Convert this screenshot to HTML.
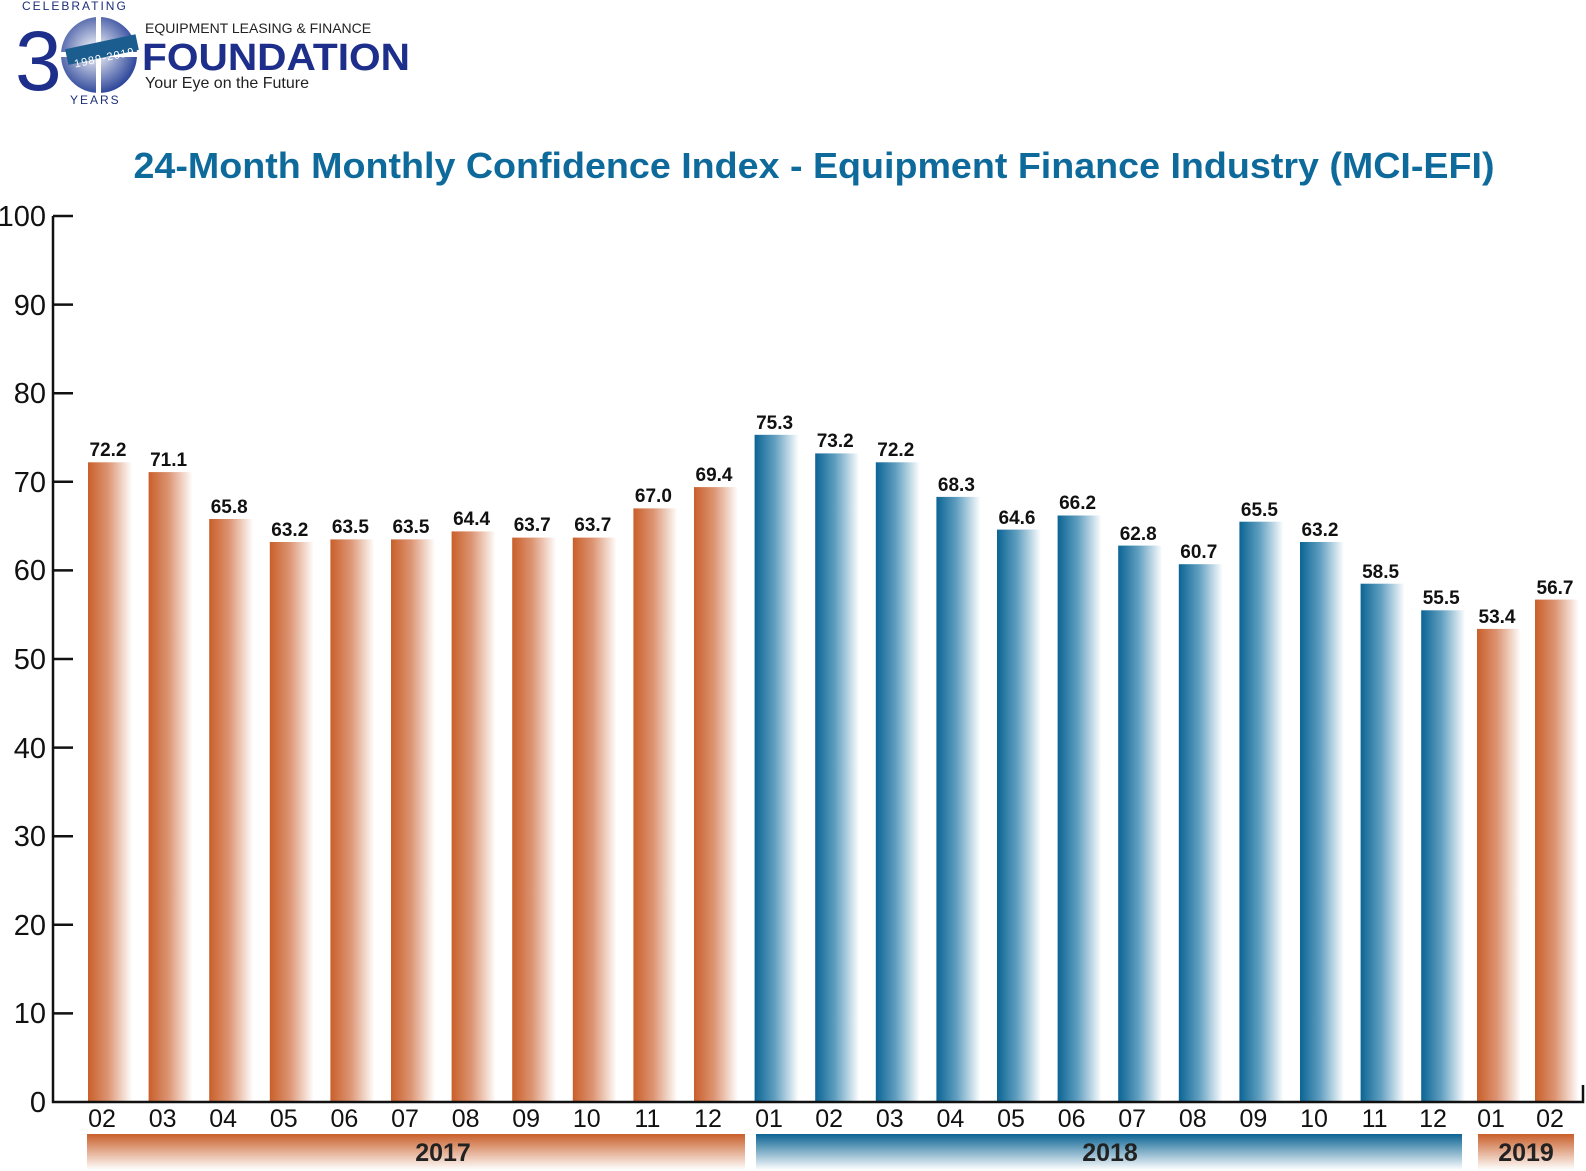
<!DOCTYPE html>
<html><head><meta charset="utf-8"><style>
html,body{margin:0;padding:0;background:#fff;}
svg{display:block;}
text{font-family:"Liberation Sans",sans-serif;}
</style></head><body>
<svg width="1586" height="1171" viewBox="0 0 1586 1171" xmlns="http://www.w3.org/2000/svg">
<defs>
<linearGradient id="o" x1="0" x2="1" y1="0" y2="0"><stop offset="0" stop-color="#c95f2a"/><stop offset="0.45" stop-color="#dc9472"/><stop offset="1" stop-color="#fff"/></linearGradient>
<linearGradient id="b" x1="0" x2="1" y1="0" y2="0"><stop offset="0" stop-color="#0b6494"/><stop offset="0.45" stop-color="#5f9ebf"/><stop offset="1" stop-color="#fff"/></linearGradient>
<linearGradient id="ov" x1="0" x2="0" y1="0" y2="1"><stop offset="0" stop-color="#c95f2a"/><stop offset="1" stop-color="#fff"/></linearGradient>
<linearGradient id="bv" x1="0" x2="0" y1="0" y2="1"><stop offset="0" stop-color="#0b6494"/><stop offset="1" stop-color="#fff"/></linearGradient>
<radialGradient id="gl" cx="0.45" cy="0.45" r="0.6"><stop offset="0" stop-color="#fff"/><stop offset="1" stop-color="#1f3a93"/></radialGradient>
</defs>
<!-- logo -->
<text x="22" y="10" font-size="12" fill="#1d2f7a" letter-spacing="2">CELEBRATING</text>
<text x="70" y="104" font-size="12" fill="#1d2f7a" letter-spacing="2">YEARS</text>
<text x="15" y="90" font-size="84" fill="#1d2f8a">3</text>
<circle cx="99" cy="55" r="38" fill="url(#gl)"/>
<rect x="96" y="17" width="5" height="76" fill="#fff"/>
<rect x="61" y="52" width="76" height="5" fill="#fff"/>
<rect x="66" y="42" width="72" height="16" fill="#1c5d8f" transform="rotate(-12 100 50)"/>
<text x="72" y="62" font-size="11" fill="#fff" letter-spacing="1" transform="rotate(-12 100 50)">1989-2019</text>
<text x="145" y="33" font-size="14" fill="#222">EQUIPMENT LEASING &amp; FINANCE</text>
<text x="142" y="70" font-size="38" font-weight="bold" fill="#1d2f8a" textLength="268" lengthAdjust="spacingAndGlyphs">FOUNDATION</text>
<text x="145" y="88" font-size="16" fill="#222">Your Eye on the Future</text>
<!-- title -->
<text x="814" y="178" font-size="36" font-weight="bold" fill="#0e6a9b" text-anchor="middle" textLength="1361" lengthAdjust="spacingAndGlyphs">24-Month Monthly Confidence Index - Equipment Finance Industry (MCI-EFI)</text>
<!-- bars -->
<g>
<rect x="88" y="462.3" width="44" height="639.7" fill="url(#o)"/>
<rect x="148.6" y="472.1" width="44" height="629.9" fill="url(#o)"/>
<rect x="209.2" y="519" width="44" height="583" fill="url(#o)"/>
<rect x="269.8" y="542" width="44" height="560" fill="url(#o)"/>
<rect x="330.4" y="539.4" width="44" height="562.6" fill="url(#o)"/>
<rect x="391" y="539.4" width="44" height="562.6" fill="url(#o)"/>
<rect x="451.6" y="531.4" width="44" height="570.6" fill="url(#o)"/>
<rect x="512.2" y="537.6" width="44" height="564.4" fill="url(#o)"/>
<rect x="572.8" y="537.6" width="44" height="564.4" fill="url(#o)"/>
<rect x="633.4" y="508.4" width="44" height="593.6" fill="url(#o)"/>
<rect x="694" y="487.1" width="44" height="614.9" fill="url(#o)"/>
<rect x="754.6" y="434.8" width="44" height="667.2" fill="url(#b)"/>
<rect x="815.2" y="453.4" width="44" height="648.6" fill="url(#b)"/>
<rect x="875.8" y="462.3" width="44" height="639.7" fill="url(#b)"/>
<rect x="936.4" y="496.9" width="44" height="605.1" fill="url(#b)"/>
<rect x="997" y="529.6" width="44" height="572.4" fill="url(#b)"/>
<rect x="1057.6" y="515.5" width="44" height="586.5" fill="url(#b)"/>
<rect x="1118.2" y="545.6" width="44" height="556.4" fill="url(#b)"/>
<rect x="1178.8" y="564.2" width="44" height="537.8" fill="url(#b)"/>
<rect x="1239.4" y="521.7" width="44" height="580.3" fill="url(#b)"/>
<rect x="1300" y="542" width="44" height="560" fill="url(#b)"/>
<rect x="1360.6" y="583.7" width="44" height="518.3" fill="url(#b)"/>
<rect x="1421.2" y="610.3" width="44" height="491.7" fill="url(#b)"/>
<rect x="1477" y="628.9" width="44" height="473.1" fill="url(#o)"/>
<rect x="1535" y="599.6" width="44" height="502.4" fill="url(#o)"/>
</g>
<!-- axes -->
<g stroke="#111" stroke-width="2.5" fill="none">
<path d="M53 216 V1102 H1583 V1085"/>
<path d="M53 216H73M53 304.6H73M53 393.2H73M53 481.8H73M53 570.4H73M53 659H73M53 747.6H73M53 836.2H73M53 924.8H73M53 1013.4H73"/>
</g>
<g font-size="29" fill="#111" text-anchor="end">
<text x="46" y="226">100</text><text x="46" y="315">90</text><text x="46" y="403">80</text><text x="46" y="492">70</text><text x="46" y="580">60</text><text x="46" y="669">50</text><text x="46" y="758">40</text><text x="46" y="846">30</text><text x="46" y="935">20</text><text x="46" y="1023">10</text><text x="46" y="1112">0</text>
</g>
<g font-size="19" font-weight="bold" fill="#111" text-anchor="middle">
<text x="108" y="456">72.2</text><text x="168.6" y="466">71.1</text><text x="229.2" y="513">65.8</text><text x="289.8" y="536">63.2</text><text x="350.4" y="533">63.5</text><text x="411" y="533">63.5</text><text x="471.6" y="525">64.4</text><text x="532.2" y="531">63.7</text><text x="592.8" y="531">63.7</text><text x="653.4" y="502">67.0</text><text x="714" y="481">69.4</text><text x="774.6" y="429">75.3</text><text x="835.2" y="447">73.2</text><text x="895.8" y="456">72.2</text><text x="956.4" y="491">68.3</text><text x="1017" y="524">64.6</text><text x="1077.6" y="509">66.2</text><text x="1138.2" y="540">62.8</text><text x="1198.8" y="558">60.7</text><text x="1259.4" y="516">65.5</text><text x="1320" y="536">63.2</text><text x="1380.6" y="578">58.5</text><text x="1441.2" y="604">55.5</text><text x="1497" y="623">53.4</text><text x="1555" y="594">56.7</text>
</g>
<g font-size="25" fill="#111" text-anchor="middle">
<text x="102" y="1127">02</text><text x="162.6" y="1127">03</text><text x="223.2" y="1127">04</text><text x="283.8" y="1127">05</text><text x="344.4" y="1127">06</text><text x="405" y="1127">07</text><text x="465.6" y="1127">08</text><text x="526.2" y="1127">09</text><text x="586.8" y="1127">10</text><text x="647.4" y="1127">11</text><text x="708" y="1127">12</text><text x="769" y="1127">01</text><text x="829.2" y="1127">02</text><text x="889.8" y="1127">03</text><text x="950.4" y="1127">04</text><text x="1011" y="1127">05</text><text x="1071.6" y="1127">06</text><text x="1132.2" y="1127">07</text><text x="1192.8" y="1127">08</text><text x="1253.4" y="1127">09</text><text x="1314" y="1127">10</text><text x="1374.6" y="1127">11</text><text x="1433" y="1127">12</text><text x="1491" y="1127">01</text><text x="1550" y="1127">02</text>
</g>
<!-- year bands -->
<rect x="87" y="1134" width="658" height="36" fill="url(#ov)"/>
<rect x="756" y="1134" width="706" height="36" fill="url(#bv)"/>
<rect x="1478" y="1134" width="96" height="36" fill="url(#ov)"/>
<g font-size="25" font-weight="bold" fill="#222" text-anchor="middle">
<text x="443" y="1161">2017</text><text x="1110" y="1161">2018</text><text x="1526" y="1161">2019</text>
</g>
</svg>
</body></html>
